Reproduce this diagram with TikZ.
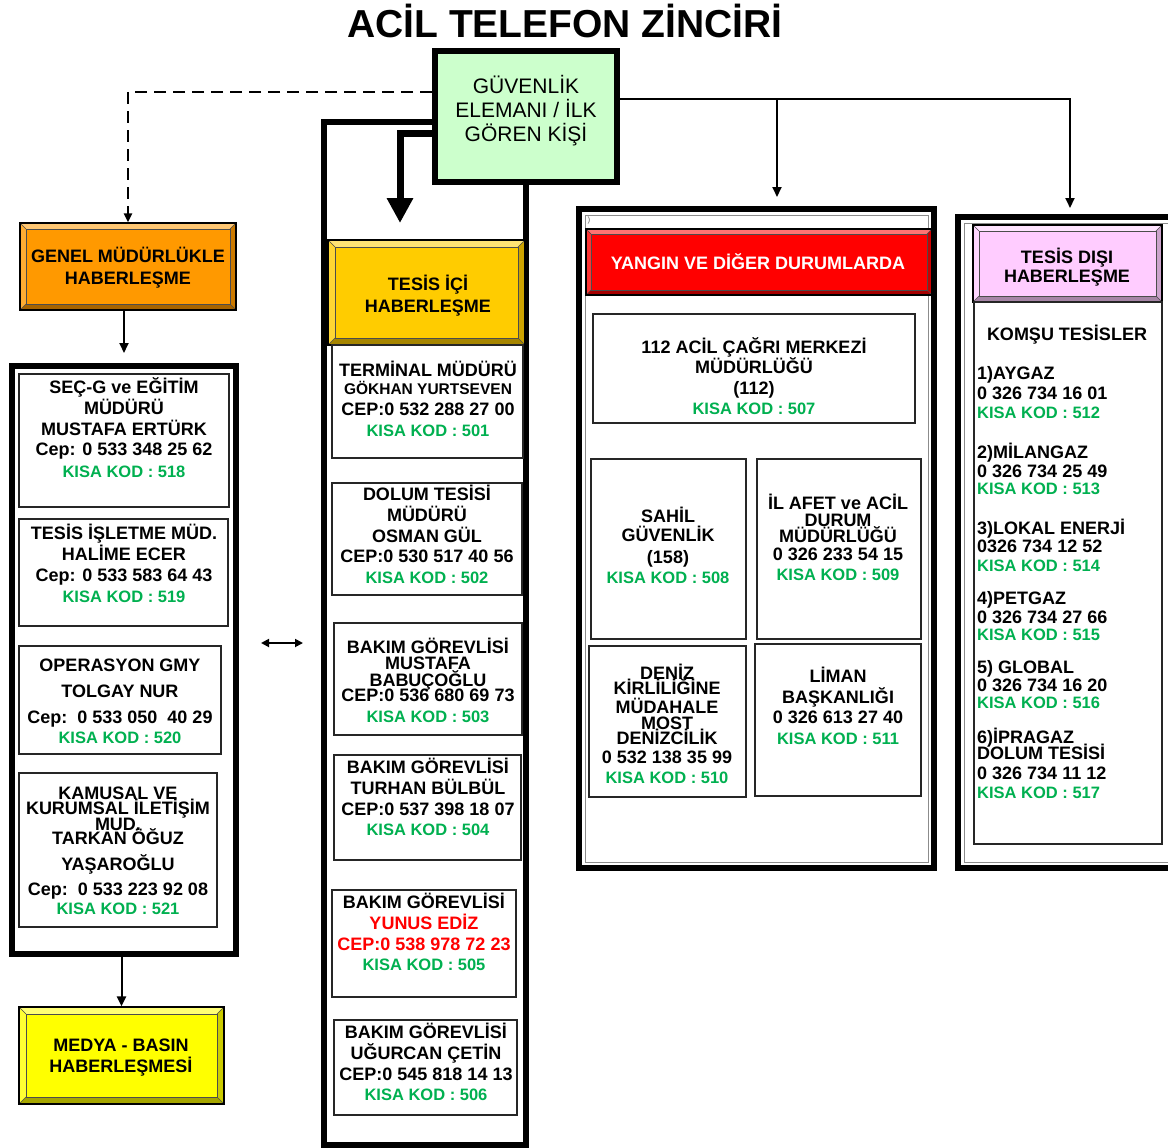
\documentclass[tikz,border=0pt]{standalone}
\usepackage{fontspec}
\setmainfont{Liberation Sans}
\usetikzlibrary{arrows.meta,fit}
\definecolor{kgreen}{RGB}{0,176,80}
\definecolor{lgreen}{RGB}{204,255,204}
\definecolor{orng}{RGB}{255,153,0}
\definecolor{goldh}{RGB}{255,204,0}
\definecolor{pinkh}{RGB}{255,204,255}
\definecolor{yelh}{RGB}{255,255,0}
\definecolor{redh}{RGB}{255,0,0}
\tikzset{
  tbase/.style={inner sep=0pt, anchor=base},
  txt/.style={tbase, font=\bfseries\fontsize{18}{18}\selectfont, yshift=-6.5pt},
  rtxt/.style={txt, text=red},
  htxt/.style={txt, text=white},
  kod/.style={tbase, font=\bfseries\fontsize{16.5}{16.5}\selectfont, text=kgreen, yshift=-6pt},
  sml/.style={tbase, font=\bfseries\fontsize{15.5}{15.5}\selectfont, yshift=-5.5pt},
  ltxt/.style={txt, anchor=base west},
  lkod/.style={kod, anchor=base west},
  gtxt/.style={tbase, font=\fontsize{21}{21}\selectfont, yshift=-7.5pt},
  titlef/.style={tbase, font=\bfseries\fontsize{39}{39}\selectfont},
  tinyf/.style={tbase, font=\fontsize{8}{8}\selectfont, text=black!60},
  tbox/.style={draw=black, line width=6pt, inner sep=0pt},
  pbox/.style={draw=black!85, line width=1.3pt, inner sep=0pt, fill=white},
  ibox/.style={draw=black!45, line width=0.8pt, inner sep=0pt},
  conn/.style={line width=2pt, -{Triangle[length=10pt,width=9pt]}},
}
\newcounter{tlc}
\newcommand\tline[4][txt]{\stepcounter{tlc}\edef\tlname{L\arabic{tlc}}\node[#1] (\tlname) at (#2,#3) {#4};}
\newcommand\bevbox[7]{%
  \fill[#6!65!black] (#2,#3) rectangle (#4,#5);
  \fill[#6!55!white] (#2,#3) -- (#4,#3) -- ({#4-#7},{#3+#7}) -- ({#2+#7},{#3+#7}) -- cycle;
  \fill[#6!80!white] (#2,#3) -- ({#2+#7},{#3+#7}) -- ({#2+#7},{#5-#7}) -- (#2,#5) -- cycle;
  \fill[#6!80!black] (#4,#3) -- (#4,#5) -- ({#4-#7},{#5-#7}) -- ({#4-#7},{#3+#7}) -- cycle;
  \fill[#6] ({#2+#7},{#3+#7}) rectangle ({#4-#7},{#5-#7});
  \draw[black!70, line width=0.6pt] (#2,#3) -- ({#2+#7},{#3+#7}) (#4,#3) -- ({#4-#7},{#3+#7})
     (#2,#5) -- ({#2+#7},{#5-#7}) (#4,#5) -- ({#4-#7},{#5-#7});
  \draw[black!70, line width=0.6pt] ({#2+#7},{#3+#7}) rectangle ({#4-#7},{#5-#7});
  \node[draw=black, line width=1.2pt, inner sep=0pt, fit={(#2,#3) (#4,#5)}] (#1) {};
}
\begin{document}
\begin{tikzpicture}[x=1pt,y=-1pt]
\useasboundingbox (0,0) rectangle (1168,1148);
% title
\node[titlef] (title) at (565,38) {ACİL TELEFON ZİNCİRİ};

% outer frames
\node[tbox, fit={(12,366) (236,954)}] (lout) {};
\node[tbox, fit={(324,121.5) (525.5,1145)}] (mout) {};
\node[tbox, fit={(579,209) (934,868)}] (yout) {};
\node[ibox, fit={(585,215) (928,862)}] (yin) {};
\node[tbox, fit={(958,217) (1180,868)}] (dout) {};
\node[ibox, fit={(964,223) (1180,862)}] (din) {};

% headers
\bevbox{orange}{20}{223}{236}{310}{orng}{6}
\tline{128}{256}{GENEL MÜDÜRLÜKLE}
\tline{128}{278}{HABERLEŞME}
\bevbox{medya}{19}{1007}{224}{1104}{yelh}{7}
\tline{121}{1045}{MEDYA - BASIN}
\tline{121}{1066}{HABERLEŞMESİ}
\bevbox{icih}{328}{240}{525}{345}{goldh}{7}
\tline{428}{284}{TESİS İÇİ}
\tline{428}{306}{HABERLEŞME}
\bevbox{yangh}{586}{229}{932}{295}{redh}{5}
\tline[htxt]{758}{263}{YANGIN VE DİĞER DURUMLARDA}
\tline[tinyf]{589}{222}{)}
\bevbox{disih}{973}{225}{1162}{302}{pinkh}{6}
\tline{1067}{257}{TESİS DIŞI}
\tline{1067}{276}{HABERLEŞME}

% left column boxes
\node[pbox, fit={(19,374) (229,507)}] (l1) {};
\tline{124}{387}{SEÇ-G ve EĞİTİM}
\tline{124}{408}{MÜDÜRÜ}
\tline{124}{429}{MUSTAFA ERTÜRK}
\tline{124}{449}{Cep: 0 533 348 25 62}
\tline[kod]{124}{471}{KISA KOD : 518}
\node[pbox, fit={(19,519) (228,626)}] (l2) {};
\tline{124}{533}{TESİS İŞLETME MÜD.}
\tline{124}{554}{HALİME ECER}
\tline{124}{575}{Cep: 0 533 583 64 43}
\tline[kod]{124}{596}{KISA KOD : 519}
\node[pbox, fit={(19,646) (221,754)}] (l3) {};
\tline{120}{665}{OPERASYON GMY}
\tline{120}{691}{TOLGAY NUR}
\tline{120}{717}{Cep:\ \ 0 533 050\ \ 40 29}
\tline[kod]{120}{737}{KISA KOD : 520}
\node[pbox, fit={(19,773) (217,927)}] (l4) {};
\tline{118}{793}{KAMUSAL VE}
\tline{118}{808}{KURUMSAL İLETİŞİM}
\tline{118}{824}{MUD.}
\tline{118}{838}{TARKAN ÖĞUZ}
\tline{118}{864}{YAŞAROĞLU}
\tline{118}{889}{Cep:\ \ 0 533 223 92 08}
\tline[kod]{118}{908}{KISA KOD : 521}

% middle column boxes
\node[pbox, fit={(332,345) (523,458)}] (m1) {};
\tline{428}{370}{TERMİNAL MÜDÜRÜ}
\tline[sml]{428}{389}{GÖKHAN YURTSEVEN}
\tline{428}{409}{CEP:0 532 288 27 00}
\tline[kod]{428}{430}{KISA KOD : 501}
\node[pbox, fit={(332,483) (522,595)}] (m2) {};
\tline{427}{494}{DOLUM TESİSİ}
\tline{427}{515}{MÜDÜRÜ}
\tline{427}{536}{OSMAN GÜL}
\tline{427}{556}{CEP:0 530 517 40 56}
\tline[kod]{427}{577}{KISA KOD : 502}
\node[pbox, fit={(334,623) (522,735)}] (m3) {};
\tline{428}{647}{BAKIM GÖREVLİSİ}
\tline{428}{663}{MUSTAFA}
\tline{428}{680}{BABUÇOĞLU}
\tline{428}{695}{CEP:0 536 680 69 73}
\tline[kod]{428}{716}{KISA KOD : 503}
\node[pbox, fit={(334,755) (521,860)}] (m4) {};
\tline{428}{767}{BAKIM GÖREVLİSİ}
\tline{428}{788}{TURHAN BÜLBÜL}
\tline{428}{809}{CEP:0 537 398 18 07}
\tline[kod]{428}{829}{KISA KOD : 504}
\node[pbox, fit={(332,890) (516,997)}] (m5) {};
\tline{424}{902}{BAKIM GÖREVLİSİ}
\tline[rtxt]{424}{923}{YUNUS EDİZ}
\tline[rtxt]{424}{944}{CEP:0 538 978 72 23}
\tline[kod]{424}{964}{KISA KOD : 505}
\node[pbox, fit={(334,1020) (517,1115)}] (m6) {};
\tline{426}{1032}{BAKIM GÖREVLİSİ}
\tline{426}{1053}{UĞURCAN ÇETİN}
\tline{426}{1074}{CEP:0 545 818 14 13}
\tline[kod]{426}{1094}{KISA KOD : 506}

% yangin boxes
\node[pbox, fit={(593,314) (915,423)}] (y1) {};
\tline{754}{347}{112 ACİL ÇAĞRI MERKEZİ}
\tline{754}{367}{MÜDÜRLÜĞÜ}
\tline{754}{388}{(112)}
\tline[kod]{754}{408}{KISA KOD : 507}
\node[pbox, fit={(591,459) (746,639)}] (y2) {};
\tline{668}{516}{SAHİL}
\tline{668}{535}{GÜVENLİK}
\tline{668}{557}{(158)}
\tline[kod]{668}{577}{KISA KOD : 508}
\node[pbox, fit={(757,459) (921,639)}] (y3) {};
\tline{838}{503}{İL AFET ve ACİL}
\tline{838}{520}{DURUM}
\tline{838}{536}{MÜDÜRLÜĞÜ}
\tline{838}{554}{0 326 233 54 15}
\tline[kod]{838}{574}{KISA KOD : 509}
\node[pbox, fit={(589,646) (746,797)}] (y4) {};
\tline{667}{673}{DENİZ}
\tline{667}{688}{KİRLİLİĞİNE}
\tline{667}{707}{MÜDAHALE}
\tline{667}{723}{MOST}
\tline{667}{738}{DENİZCİLİK}
\tline{667}{757}{0 532 138 35 99}
\tline[kod]{667}{777}{KISA KOD : 510}
\node[pbox, fit={(755,644) (921,796)}] (y5) {};
\tline{838}{676}{LİMAN}
\tline{838}{697}{BAŞKANLIĞI}
\tline{838}{717}{0 326 613 27 40}
\tline[kod]{838}{738}{KISA KOD : 511}

% tesis disi
\node[pbox, fit={(974,302) (1162,844)}] (d1) {};
\tline{1067}{334}{KOMŞU TESİSLER}
\tline[ltxt]{977}{373}{1)AYGAZ}
\tline[ltxt]{977}{393}{0 326 734 16 01}
\tline[lkod]{977}{412}{KISA KOD : 512}
\tline[ltxt]{977}{452}{2)MİLANGAZ}
\tline[ltxt]{977}{471}{0 326 734 25 49}
\tline[lkod]{977}{488}{KISA KOD : 513}
\tline[ltxt]{977}{528}{3)LOKAL ENERJİ}
\tline[ltxt]{977}{546}{0326 734 12 52}
\tline[lkod]{977}{565}{KISA KOD : 514}
\tline[ltxt]{977}{598}{4)PETGAZ}
\tline[ltxt]{977}{617}{0 326 734 27 66}
\tline[lkod]{977}{634}{KISA KOD : 515}
\tline[ltxt]{977}{667}{5) GLOBAL}
\tline[ltxt]{977}{685}{0 326 734 16 20}
\tline[lkod]{977}{702}{KISA KOD : 516}
\tline[ltxt]{977}{737}{6)İPRAGAZ}
\tline[ltxt]{977}{753}{DOLUM TESİSİ}
\tline[ltxt]{977}{773}{0 326 734 11 12}
\tline[lkod]{977}{792}{KISA KOD : 517}

% green source box
\node[draw=black, line width=6pt, fill=lgreen, inner sep=0pt, fit={(435,51) (617,182)}] (green) {};
\tline[gtxt]{526}{86}{GÜVENLİK}
\tline[gtxt]{526}{110}{ELEMANI / İLK}
\tline[gtxt]{526}{134}{GÖREN KİŞİ}

% connectors
\coordinate (tipA) at (400,223);
\coordinate (tipR) at (1070,208);
\coordinate (brM) at (777,99.5);
\coordinate (tipM) at (777,197);
\coordinate (dA) at (261,643);
\coordinate (dB) at (303,643);
\draw[line width=2pt, dash pattern=on 12pt off 7pt, -{Triangle[length=9pt,width=8pt]}]
  ([yshift=24.5pt]green.west) -| (orange.north);
\draw[line width=7pt, -{Triangle[length=25pt,width=25pt]}] ([yshift=-17pt]green.west) -| (tipA);
\draw[conn] ([yshift=17pt]green.east) -| (tipR);
\draw[conn] (brM) -- (tipM);
\draw[conn, shorten >=10pt] (orange.south -| lout.north) -- (lout.north);
\draw[conn] (lout.south -| medya.north) -- (medya.north);
\draw[line width=1.8pt, {Triangle[length=8pt,width=8pt]}-{Triangle[length=8pt,width=8pt]}] (dA) -- (dB);
\end{tikzpicture}
\end{document}
